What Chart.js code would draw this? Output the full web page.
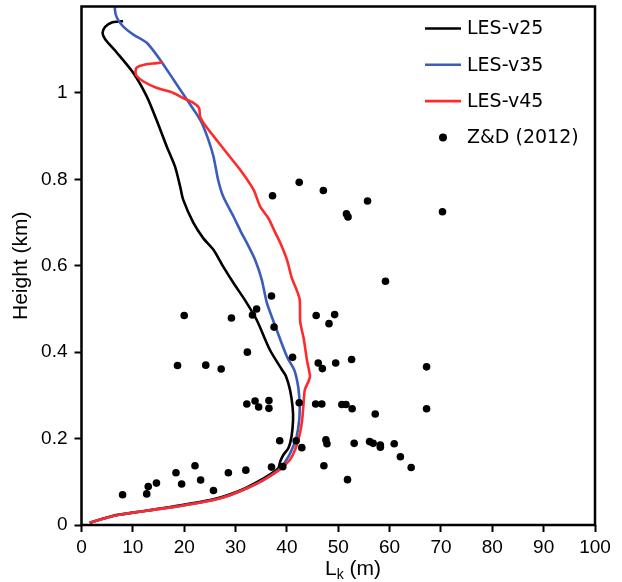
<!DOCTYPE html>
<html>
<head>
    <title>Mixing length profiles, LES against Z&amp;D (2012)</title>
    <style type="text/css">
        body {
            margin: 0;
            background: #ffffff;
        }

        #chart-container {
            width: 622px;
            height: 582px;
        }
    </style>
    <script type="text/javascript" src="https://cdn.jsdelivr.net/npm/chart.js@4/dist/chart.umd.min.js"></script>
</head>
<body>

<div id="chart-container">
    <canvas id="graphCanvas" width="622" height="582"></canvas>
</div>

<script>
    // profiles, bottom to top (Lk in m, height in km)
    var v25Lk = [1.6, 6.0, 12.5, 19.0, 25.5, 28.7, 32.0, 35.2, 38.3, 38.7, 39.3, 40.3, 40.9, 41.2, 41.1, 40.6, 39.8, 39.0,
        36.7, 34.1, 31.8, 29.6, 27.6, 25.7, 23.7, 21.8, 19.8, 19.2, 18.2, 16.6, 14.6, 12.7, 10.1, 6.9, 4.6, 4.1, 4.6, 5.9, 7.2, 8.1];
    var v25Height = [0.005, 0.021, 0.033, 0.045, 0.059, 0.070, 0.086, 0.106, 0.131, 0.147, 0.162, 0.178, 0.205, 0.243, 0.274, 0.313, 0.345, 0.360,
        0.405, 0.475, 0.521, 0.560, 0.598, 0.637, 0.664, 0.699, 0.753, 0.784, 0.830, 0.876, 0.938, 0.992, 1.046, 1.093, 1.124, 1.139, 1.153, 1.163, 1.165, 1.166];

    var v35Lk = [1.6, 6.2, 12.7, 19.2, 25.7, 28.9, 32.2, 35.4, 38.4, 39.0, 40.3, 41.2, 41.9, 42.4, 42.5, 42.4, 42.2, 41.8, 41.4, 40.0,
        38.0, 36.1, 35.1, 33.8, 32.2, 31.2, 29.6, 27.6, 26.6, 25.7, 24.7, 23.4, 22.2, 20.5, 19.2, 17.9, 15.3, 12.7, 10.1, 8.1, 6.9, 6.5, 6.7];
    var v35Height = [0.005, 0.021, 0.033, 0.044, 0.058, 0.069, 0.085, 0.104, 0.128, 0.135, 0.158, 0.181, 0.205, 0.243, 0.274, 0.297, 0.320, 0.344, 0.360, 0.390,
        0.452, 0.514, 0.568, 0.614, 0.653, 0.675, 0.714, 0.760, 0.799, 0.853, 0.892, 0.931, 0.955, 0.985, 1.008, 1.031, 1.077, 1.116, 1.135, 1.154, 1.174, 1.193, 1.210];

    var v45Lk = [1.6, 6.2, 12.7, 19.2, 25.7, 28.9, 32.2, 35.4, 38.6, 40.6, 41.6, 42.4, 42.9, 43.2, 43.5, 44.3, 44.5, 43.9, 43.3, 42.6,
        42.5, 41.9, 41.0, 40.0, 38.7, 37.6, 36.4, 34.8, 33.5, 30.9, 28.3, 25.7, 23.9, 23.1, 22.9, 21.8, 19.8, 17.9, 14.6, 12.0, 10.6, 10.7, 12.4, 14.6, 15.9];
    var v45Height = [0.005, 0.021, 0.033, 0.044, 0.058, 0.069, 0.085, 0.104, 0.128, 0.151, 0.174, 0.205, 0.236, 0.274, 0.313, 0.335, 0.345, 0.382, 0.430, 0.470,
        0.521, 0.544, 0.570, 0.614, 0.653, 0.680, 0.710, 0.737, 0.776, 0.822, 0.861, 0.900, 0.928, 0.945, 0.965, 0.977, 0.988, 1.000, 1.012, 1.027, 1.042, 1.058, 1.066, 1.069, 1.071];

    // Z&D (2012) observations
    var zdLk = [8.0, 12.7, 13.0, 14.6, 18.4, 19.5, 22.1, 23.2, 25.7, 28.6, 32.0, 37.0, 39.2, 38.6, 41.8, 42.9, 42.4, 32.2, 33.8, 34.5,
        36.5, 36.5, 18.7, 24.2, 27.2, 32.3, 41.1, 20.0, 29.2, 33.3, 34.1, 37.5, 37.0, 45.7, 49.3, 48.2, 46.1, 46.9, 49.5, 52.6,
        67.2, 45.6, 46.8, 50.7, 51.5, 52.7, 57.2, 67.2, 47.6, 47.8, 53.1, 56.1, 56.8, 58.2, 58.2, 60.9, 62.1, 64.2, 47.2, 51.8,
        59.2, 42.4, 47.1, 51.6, 51.9, 55.7, 70.3, 37.2];
    var zdHeight = [0.070, 0.072, 0.089, 0.097, 0.121, 0.095, 0.137, 0.104, 0.080, 0.121, 0.127, 0.134, 0.135, 0.195, 0.195, 0.179, 0.283, 0.280, 0.287, 0.273,
        0.288, 0.270, 0.369, 0.370, 0.361, 0.400, 0.388, 0.485, 0.479, 0.486, 0.500, 0.458, 0.530, 0.485, 0.487, 0.466, 0.375, 0.362, 0.375, 0.383,
        0.366, 0.280, 0.280, 0.279, 0.279, 0.269, 0.257, 0.269, 0.197, 0.188, 0.189, 0.193, 0.189, 0.185, 0.180, 0.188, 0.158, 0.133, 0.137, 0.105,
        0.564, 0.793, 0.774, 0.720, 0.713, 0.750, 0.725, 0.762];

    var seriesNames = ['LES-v25', 'LES-v35', 'LES-v45', 'Z&D (2012)'];
    var seriesColors = ['#000000', '#3b5cb8', '#ff2b2b', '#000000'];

    var xTickValues = [0, 10, 20, 30, 40, 50, 60, 70, 80, 90, 100];
    var yTickValues = [0, 0.2, 0.4, 0.6, 0.8, 1];
    var yTickLabels = ['0', '0.2', '0.4', '0.6', '0.8', '1'];

    function pairUp(xs, ys) {
        var out = [];
        for (var i = 0; i < xs.length; i++) {
            out.push({x: xs[i], y: ys[i]});
        }
        return out;
    }

    function profile(idx, xs, ys, order) {
        return {
            label: seriesNames[idx],
            data: pairUp(xs, ys),
            showLine: true,
            borderColor: seriesColors[idx],
            backgroundColor: seriesColors[idx],
            borderWidth: 2.6,
            pointRadius: 0,
            tension: 0.25,
            order: order
        };
    }

    // frame, inside legend and the Lk axis title
    var extras = {
        id: 'extras',
        afterDraw: function (chart) {
            var ctx = chart.ctx;
            var a = chart.chartArea;
            ctx.save();
            ctx.strokeStyle = '#000';
            ctx.lineWidth = 2.5;
            ctx.strokeRect(a.left, a.top, a.right - a.left, a.bottom - a.top);

            ctx.font = '19px "DejaVu Sans"';
            ctx.textBaseline = 'middle';
            ctx.textAlign = 'left';
            for (var i = 0; i < seriesNames.length; i++) {
                var y = 28.5 + i * 36.3;
                ctx.fillStyle = seriesColors[i];
                ctx.strokeStyle = seriesColors[i];
                if (i < 3) {
                    ctx.lineWidth = 2.6;
                    ctx.beginPath();
                    ctx.moveTo(425, y);
                    ctx.lineTo(461, y);
                    ctx.stroke();
                } else {
                    ctx.beginPath();
                    ctx.arc(443, y, 4, 0, Math.PI * 2);
                    ctx.fill();
                }
                ctx.fillStyle = '#000';
                ctx.fillText(seriesNames[i], 467, y + 1);
            }

            ctx.fillStyle = '#000';
            ctx.textBaseline = 'alphabetic';
            var big = '21px "Liberation Sans"', small = '14px "Liberation Sans"';
            ctx.font = big;
            var wL = ctx.measureText('L').width, wRest = ctx.measureText(' (m)').width;
            ctx.font = small;
            var wk = ctx.measureText('k').width;
            var x0 = 353 - (wL + wk + wRest) / 2;
            ctx.font = big;
            ctx.fillText('L', x0, 575);
            ctx.font = small;
            ctx.fillText('k', x0 + wL, 579);
            ctx.font = big;
            ctx.fillText(' (m)', x0 + wL + wk, 575);
            ctx.restore();
        }
    };

    Chart.defaults.font.family = '"Liberation Sans", Arial, sans-serif';
    Chart.defaults.color = '#000';

    var graphTarget = document.getElementById('graphCanvas');
    var lkChart = new Chart(graphTarget, {
        type: 'scatter',
        data: {
            datasets: [
                profile(0, v25Lk, v25Height, 3),
                profile(1, v35Lk, v35Height, 2),
                profile(2, v45Lk, v45Height, 1),
                {
                    label: seriesNames[3],
                    data: pairUp(zdLk, zdHeight),
                    showLine: false,
                    pointRadius: 3.8,
                    pointBorderWidth: 0,
                    backgroundColor: seriesColors[3],
                    borderColor: seriesColors[3],
                    order: 0
                }
            ]
        },
        options: {
            responsive: false,
            animation: false,
            layout: {padding: {top: 6.5, right: 27, bottom: 0, left: 0}},
            plugins: {
                legend: {display: false},
                tooltip: {enabled: false}
            },
            scales: {
                x: {
                    type: 'linear',
                    min: 0,
                    max: 100,
                    afterBuildTicks: function (s) {
                        s.ticks = xTickValues.map(function (v) { return {value: v}; });
                    },
                    afterFit: function (s) {
                        s.height = 57;
                        s.paddingLeft = 0;
                        s.paddingRight = 0;
                    },
                    border: {display: false},
                    grid: {drawOnChartArea: false, tickLength: 7, tickWidth: 2, tickColor: '#000'},
                    ticks: {font: {size: 19}, padding: 4, maxRotation: 0},
                    title: {display: false}
                },
                y: {
                    type: 'linear',
                    min: 0,
                    max: 1.2,
                    afterBuildTicks: function (s) {
                        s.ticks = yTickValues.map(function (v) { return {value: v}; });
                    },
                    afterFit: function (s) {
                        s.width = 81.5;
                        s.paddingTop = 0;
                        s.paddingBottom = 0;
                    },
                    border: {display: false},
                    grid: {drawOnChartArea: false, tickLength: 7, tickWidth: 2, tickColor: '#000'},
                    ticks: {
                        font: {size: 19},
                        padding: 7,
                        callback: function (v, i) { return yTickLabels[i]; }
                    },
                    title: {display: true, text: 'Height (km)', font: {size: 21}, padding: {top: 9, bottom: 0}}
                }
            }
        },
        plugins: [extras]
    });
</script>

</body>
</html>
